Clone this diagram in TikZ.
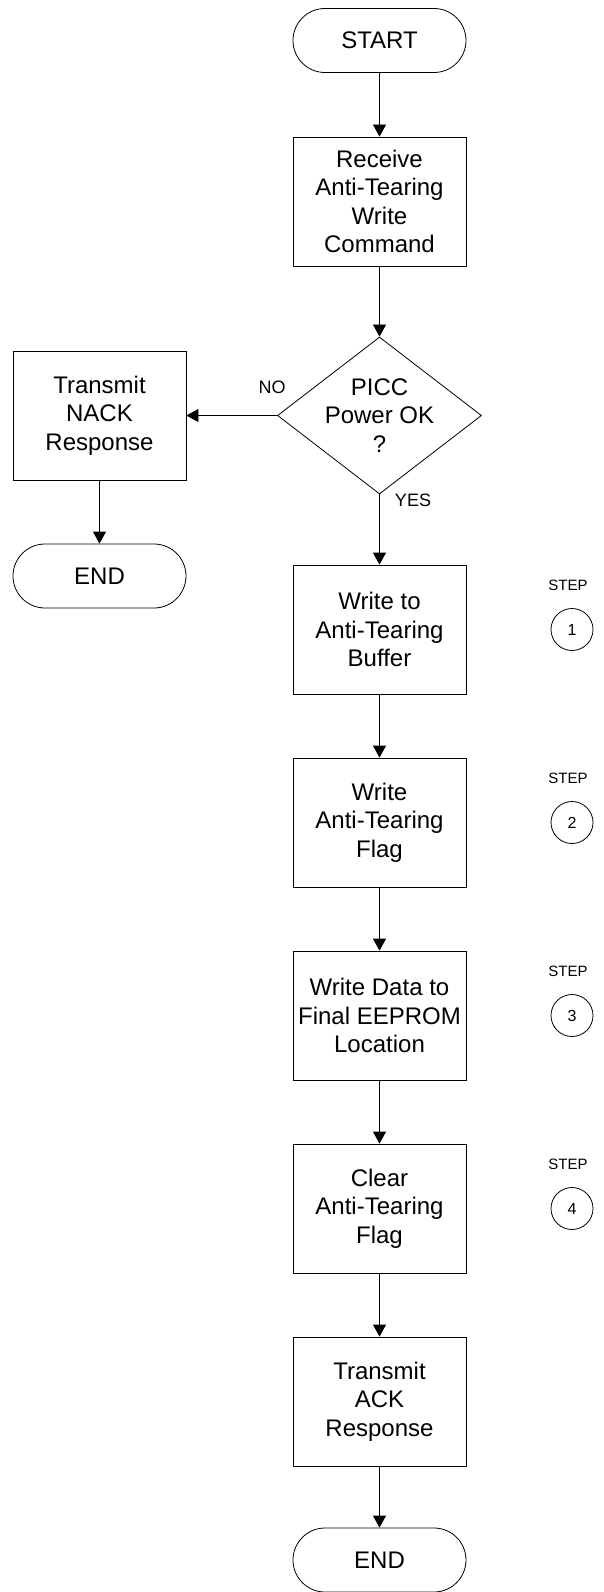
\documentclass[tikz,border=0pt]{standalone}
\usepackage{fontspec}
\setmainfont{Liberation Sans}
\usetikzlibrary{shapes.geometric}
\usetikzlibrary{arrows.meta}

\tikzset{
  proc/.style={draw, line width=0.8pt, minimum width=173pt, minimum height=129pt,
    inner sep=0pt, align=center, font=\fontsize{24}{28.5}\selectfont},
  term/.style={draw, line width=0.8pt, rounded corners=32pt, minimum width=173pt,
    minimum height=64pt, inner sep=0pt, font=\fontsize{24}{28.5}\selectfont},
  decide/.style={draw, diamond, line width=0.8pt, minimum width=204pt,
    minimum height=157pt, inner sep=0pt},
  flow/.style={line width=0.8pt, -{Triangle[length=12pt,width=13pt]}},
  steplabel/.style={font=\fontsize{15}{18}\selectfont},
  stepnum/.style={draw, circle, line width=0.8pt, minimum size=42pt, inner sep=0pt,
    font=\fontsize{16}{19}\selectfont},
  answer/.style={font=\fontsize{18}{21}\selectfont}
}

\begin{document}
\begin{tikzpicture}[x=1pt,y=-1pt]
\useasboundingbox (0,0) rectangle (603,1592);
\def\cx{379.5}

\node[term] (start) at (\cx, 40.5) {START};
\node[proc] (recv) at (\cx, 201.5) {Receive\\Anti-Tearing\\Write\\Command};
\node[decide] (picc) at (\cx, 415.5) {};
\node[align=center, font=\fontsize{24}{28.5}\selectfont] (picct) at (picc) {PICC\\Power OK\\?};
\node[proc] (nack) at (99.5, 415.5) {Transmit\\NACK\\Response};
\node[term] (endl) at (99.5, 576) {END};

\node[proc] (buf) at (\cx, 629.5) {Write to\\Anti-Tearing\\Buffer};
\node[proc] (flag) at (\cx, 822.5) {Write\\Anti-Tearing\\Flag};
\node[proc] (data) at (\cx, 1015.5) {Write Data to\\Final EEPROM\\Location};
\node[proc] (clear) at (\cx, 1208.5) {Clear\\Anti-Tearing\\Flag};
\node[proc] (ack) at (\cx, 1401.5) {Transmit\\ACK\\Response};
\node[term] (endr) at (\cx, 1560) {END};

\node[answer] (no) at (272, 387) {NO};
\node[answer] (yes) at (413, 500) {YES};

% step markers
\foreach \n/\y in {1/629.5, 2/822.5, 3/1015.5, 4/1208.5} {
  \node[steplabel] (steplbl\n) at (568, \y-44) {STEP};
  \node[stepnum] (stepnum\n) at (572, \y) {\n};
}

\draw[flow] (start) -- (recv);
\draw[flow] (recv) -- (picc);
\draw[flow] (picc.west) -- (nack);
\draw[flow] (nack) -- (endl);
\draw[flow] (picc.south) -- (buf);
\draw[flow] (buf) -- (flag);
\draw[flow] (flag) -- (data);
\draw[flow] (data) -- (clear);
\draw[flow] (clear) -- (ack);
\draw[flow] (ack) -- (endr);
\end{tikzpicture}
\end{document}
